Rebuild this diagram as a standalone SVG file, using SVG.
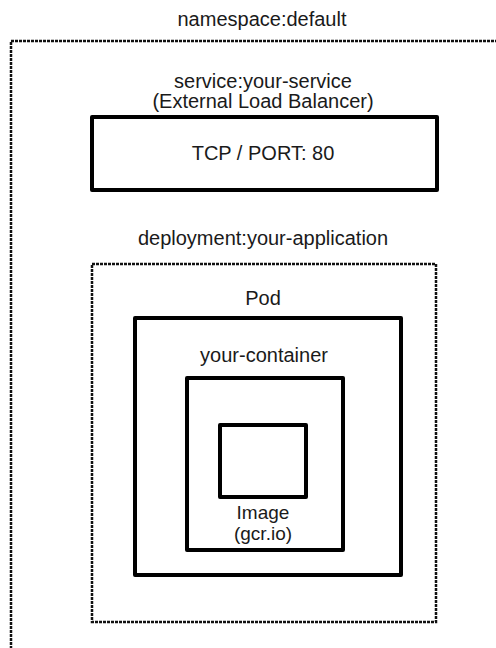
<svg xmlns="http://www.w3.org/2000/svg" width="496" height="648" viewBox="0 0 496 648">
<style>
text{font-family:"Liberation Sans",Arial,sans-serif;font-size:20px;fill:#1a1a1a;text-anchor:middle}
.small{font-size:19px}
.solid{fill:none;stroke:#000;stroke-width:4;stroke-linejoin:round}
.dash{fill:none;stroke:#111;stroke-width:2.5;stroke-dasharray:3 1}
</style>
<rect width="496" height="648" fill="#fff"/>
<g id="namespace">
<rect class="dash" x="11" y="41" width="520" height="640"/>
<text x="262" y="26">namespace:default</text>
</g>
<g id="service">
<rect class="solid" x="92" y="117" width="345" height="73"/>
<text x="263" y="88">service:your-service</text>
<text x="263" y="108">(External Load Balancer)</text>
<text x="263" y="160">TCP / PORT: 80</text>
</g>
<g id="deployment">
<rect class="dash" x="92" y="264" width="344" height="358"/>
<text x="263" y="245">deployment:your-application</text>
</g>
<g id="pod">
<rect class="solid" x="135" y="318" width="266" height="257"/>
<text x="263" y="305">Pod</text>
</g>
<g id="container">
<rect class="solid" x="187" y="378" width="156" height="172"/>
<text x="264" y="362">your-container</text>
</g>
<g id="image">
<rect class="solid" x="220" y="425" width="86" height="72"/>
<text class="small" x="263" y="519">Image</text>
<text class="small" x="263" y="540">(gcr.io)</text>
</g>
<g id="connectors"></g>
</svg>
